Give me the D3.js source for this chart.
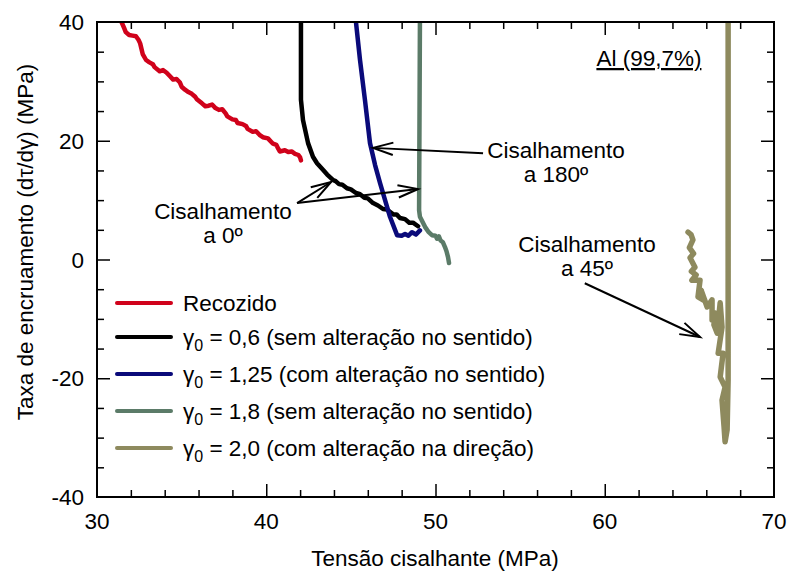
<!DOCTYPE html>
<html>
<head>
<meta charset="utf-8">
<script src="https://cdn.jsdelivr.net/npm/d3@7"></script>
<style>
  body { margin: 0; background: #fff; }
  text { font-family: "Liberation Sans", Arial, sans-serif; fill: #000; }
</style>
</head>
<body>
<div id="chart"></div>
<script>
// tensao cisalhante (MPa) vs taxa de encruamento (MPa)
var recozido = [[31.45,40],[31.6,39.0],[31.7,38.3],[31.9,37.8],[32.1,37.7],[32.3,37.6],[32.45,37.0],[32.55,36.4],
  [32.7,34.6],[32.9,33.6],[33.1,33.2],[33.3,32.9],[33.4,32.4],[33.7,31.7],[33.9,31.9],[34.1,31.5],[34.3,30.9],
  [34.5,30.3],[34.7,30.4],[34.9,29.8],[35.0,29.1],[35.2,28.6],[35.4,28.2],[35.6,27.9],[35.8,27.4],[35.9,27.0],
  [36.2,26.3],[36.4,25.8],[36.6,25.9],[36.8,26.1],[37.0,25.5],[37.2,25.2],[37.4,25.3],[37.6,24.6],[37.7,24.1],
  [38.0,23.6],[38.2,23.5],[38.3,23.0],[38.6,22.8],[38.8,22.5],[38.9,22.0],[39.2,21.5],[39.4,21.6],[39.6,21.0],
  [39.8,20.6],[40.1,20.4],[40.3,19.8],[40.4,19.5],[40.6,19.3],[40.7,18.7],[40.8,18.2],[41.1,18.4],[41.3,18.1],
  [41.5,18.2],[41.7,17.8],[41.9,17.6],[42.0,17.2],[42.05,16.7]];
var g06 = [[42.05,40],[42.05,26.9],[42.17,23.5],[42.47,19.6],[42.76,17.3],[43.0,16.2],[43.35,15.1],[43.6,14.3],
  [43.94,13.4],[44.1,13.2],[44.3,12.7],[44.5,12.6],[44.77,12.0],[45.0,11.8],[45.3,11.2],[45.54,11.0],[45.8,10.4],
  [46.0,10.3],[46.31,9.5],[46.6,9.1],[46.9,8.5],[47.13,8.4],[47.5,7.6],[47.7,7.6],[47.9,7.0],[48.2,6.8],
  [48.45,6.2],[48.67,6.2],[48.97,5.6]];
var g125 = [[45.3,40],[45.54,33.6],[45.83,26.9],[46.13,19.6],[46.43,15.9],[46.72,12.9],[47.02,10.0],
  [47.31,7.2],[47.61,5.0],[47.73,4.1],[48.0,4.0],[48.2,4.3],[48.4,4.0],[48.61,4.6],[48.85,4.2],[49.08,4.9]];
var g18 = [[49.08,40],[49.03,8.3],[49.08,7.2],[49.38,5.5],[49.6,4.6],[49.79,4.1],[50.0,4.0],[50.09,3.5],
  [50.2,3.9],[50.3,3.2],[50.44,2.9],[50.56,2.1],[50.65,1.4],[50.74,0.4],[50.8,-0.6]];
var g20 = [[64.92,4.6],[65.1,4.2],[65.21,3.3],[65.0,2.0],[65.25,1.0],[65.04,0.3],[65.33,-1.3],[65.12,-2.0],
  [65.4,-2.6],[65.15,-3.5],[65.63,-3.5],[65.51,-6.3],[65.81,-6.8],[65.7,-5.2],[66.05,-8.0],[66.34,-6.8],
  [66.34,-10.2],[66.52,-9.0],[66.45,-11.0],[66.64,-12.4],[66.82,-7.3],[66.93,-11.4],[66.7,-15.8],
  [66.99,-15.8],[66.82,-19.8],[67.11,-21.5],[66.93,-23.7],[67.05,-28.2],[67.11,-30.7],[67.23,-28.7],
  [67.29,-20.3],[67.29,-6.8],[67.29,40]];

var seriesNames = ["Recozido", "0,6 (sem alteração no sentido)", "1,25 (com alteração no sentido)",
  "1,8 (sem alteração no sentido)", "2,0 (com alteração na direção)"];
var seriesColors = ["#d0021b", "#000000", "#0a0a7a", "#5b7b68", "#8e8a5e"];
var seriesData = [recozido, g06, g125, g18, g20];

var xTicks = [30, 40, 50, 60, 70];
var yTicks = [-40, -20, 0, 20, 40];

var width = 787, height = 573, fs = 22.5;
var x = d3.scaleLinear().domain([30, 70]).range([97, 774]);
var y = d3.scaleLinear().domain([-40, 40]).range([497, 22]);

var svg = d3.select("#chart").append("svg")
    .attr("width", width)
    .attr("height", height);

var plot = svg.append("g");

// curves
var line = d3.line()
    .x(function(d){ return x(d[0]); })
    .y(function(d){ return y(d[1]); });

svg.append("clipPath").attr("id", "clip")
  .append("rect").attr("x", 97).attr("y", 22).attr("width", 677).attr("height", 475);

plot.selectAll(".curve")
    .data(seriesData)
    .enter().append("path")
    .attr("class", "curve")
    .attr("clip-path", "url(#clip)")
    .attr("d", line)
    .attr("fill", "none")
    .attr("stroke", function(d, i){ return seriesColors[i]; })
    .attr("stroke-width", function(d, i){ return i === 4 ? 5.5 : 4.5; })
    .attr("stroke-linejoin", "round")
    .attr("stroke-linecap", "round");

// frame + ticks (inside, all four sides)
plot.append("rect")
    .attr("x", x(30)).attr("y", y(40))
    .attr("width", x(70) - x(30)).attr("height", y(-40) - y(40))
    .attr("fill", "none").attr("stroke", "#000").attr("stroke-width", 2);

var axB = d3.axisBottom(x).tickValues(d3.range(32, 70, 2)).tickSize(-7).tickFormat("");
var axT = d3.axisTop(x).tickValues(d3.range(32, 70, 2)).tickSize(-7).tickFormat("");
var axL = d3.axisLeft(y).tickValues(d3.range(-35, 40, 5)).tickSize(-7).tickFormat("");
var axR = d3.axisRight(y).tickValues(d3.range(-35, 40, 5)).tickSize(-7).tickFormat("");
function tickStyle(g, major, majorLen){
  g.select(".domain").remove();
  g.selectAll(".tick line").attr("stroke-width", 1.5)
    .each(function(d){
      if (major.indexOf(d) >= 0) {
        var ln = d3.select(this);
        if (ln.attr("y2") !== null && +ln.attr("y2") !== 0) ln.attr("y2", Math.sign(+ln.attr("y2")) * majorLen);
        if (ln.attr("x2") !== null && +ln.attr("x2") !== 0) ln.attr("x2", Math.sign(+ln.attr("x2")) * majorLen);
      }
    });
}
plot.append("g").attr("transform", "translate(0," + y(-40) + ")").call(axB).call(tickStyle, xTicks, 13);
plot.append("g").attr("transform", "translate(0," + y(40) + ")").call(axT).call(tickStyle, xTicks, 13);
plot.append("g").attr("transform", "translate(" + x(30) + ",0)").call(axL).call(tickStyle, yTicks, 13);
plot.append("g").attr("transform", "translate(" + x(70) + ",0)").call(axR).call(tickStyle, yTicks, 13);

// tick labels
svg.selectAll(".xl").data(xTicks).enter().append("text")
    .attr("x", function(d){ return x(d); }).attr("y", 529)
    .attr("text-anchor", "middle").attr("font-size", fs).text(function(d){ return d; });
svg.selectAll(".yl").data(yTicks).enter().append("text")
    .attr("x", 84).attr("y", function(d){ return y(d) + 8; })
    .attr("text-anchor", "end").attr("font-size", fs).text(function(d){ return d; });

// axis titles
svg.append("text").attr("x", 435).attr("y", 566).attr("text-anchor", "middle")
    .attr("font-size", fs).text("Tensão cisalhante (MPa)");
svg.append("text").attr("transform", "translate(33,242) rotate(-90)").attr("text-anchor", "middle")
    .attr("font-size", fs).text("Taxa de encruamento (dτ/dγ) (MPa)");

// legend
var legY = [303, 337, 374, 411, 448];
var leg = svg.selectAll(".leg").data(seriesNames).enter().append("g")
    .attr("transform", function(d, i){ return "translate(117," + legY[i] + ")"; });
leg.append("line").attr("x1", 0).attr("x2", 54).attr("y1", 0).attr("y2", 0)
    .attr("stroke", function(d, i){ return seriesColors[i]; })
    .attr("stroke-width", 4).attr("stroke-linecap", "round");
leg.append("text").attr("x", 66).attr("y", 8).attr("font-size", fs)
    .each(function(d, i){
      var t = d3.select(this);
      if (i === 0) { t.text(d); return; }
      t.append("tspan").text("γ");
      t.append("tspan").attr("font-size", 16).attr("dy", 6).text("0");
      t.append("tspan").attr("dy", -6).text(" = " + d);
    });

// annotations
var notes = [
  {l1: "Cisalhamento", l2: "a 180º", x: 57.12, y: 17.1},
  {l1: "Cisalhamento", l2: "a 0º", x: 37.44, y: 6.9},
  {l1: "Cisalhamento", l2: "a 45º", x: 58.95, y: 1.3}
];
notes.forEach(function(n){
  svg.append("text").attr("x", x(n.x)).attr("y", y(n.y)).attr("text-anchor", "middle")
    .attr("font-size", fs).text(n.l1);
  svg.append("text").attr("x", x(n.x)).attr("y", y(n.y) + 24).attr("text-anchor", "middle")
    .attr("font-size", fs).text(n.l2);
});

var arrows = [
  [[52.81, 17.9], [46.31, 18.8]],
  [[41.82, 9.5], [43.83, 13.05]],
  [[41.82, 9.5], [48.97, 11.87]],
  [[58.82, -4.0], [65.63, -13.05]]
];
arrows.forEach(function(a){
  var x1 = x(a[0][0]), y1 = y(a[0][1]), x2 = x(a[1][0]), y2 = y(a[1][1]);
  var ang = Math.atan2(y2 - y1, x2 - x1), L = 21, w = 0.3;
  svg.append("line").attr("x1", x1).attr("y1", y1).attr("x2", x2).attr("y2", y2)
    .attr("stroke", "#000").attr("stroke-width", 2);
  svg.append("path")
    .attr("d", "M" + (x2 - L * Math.cos(ang - w)) + "," + (y2 - L * Math.sin(ang - w)) +
               "L" + x2 + "," + y2 +
               "L" + (x2 - L * Math.cos(ang + w)) + "," + (y2 - L * Math.sin(ang + w)))
    .attr("fill", "none").attr("stroke", "#000").attr("stroke-width", 2);
});

// material label
svg.append("text").attr("x", x(62.61)).attr("y", y(40) + 44).attr("text-anchor", "middle")
    .attr("font-size", fs).attr("text-decoration", "underline").text("Al (99,7%)");
</script>
</body>
</html>
